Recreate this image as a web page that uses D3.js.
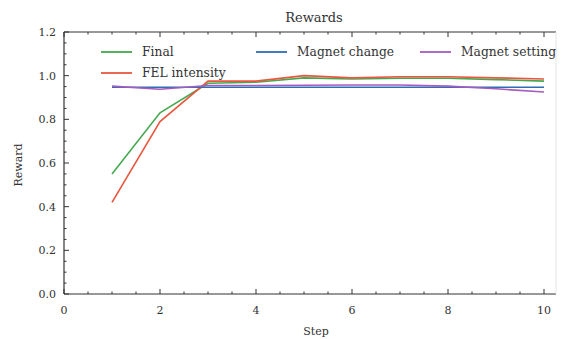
<!DOCTYPE html>
<html>
<head>
<meta charset="utf-8">
<script src="https://cdn.jsdelivr.net/npm/d3@7"></script>
<style>
  body { margin: 0; background: #fff; }
  text { font-family: "DejaVu Serif", "Liberation Serif", serif; fill: #333; }
</style>
</head>
<body>
<div id="chart"></div>
<script>
// data
const steps = [1, 2, 3, 4, 5, 6, 7, 8, 9, 10];
const finalReward = [0.55, 0.83, 0.965, 0.97, 0.99, 0.985, 0.988, 0.988, 0.982, 0.975];
const felIntensity = [0.42, 0.79, 0.975, 0.975, 1.0, 0.99, 0.995, 0.995, 0.99, 0.985];
const magnetChange = [0.947, 0.947, 0.947, 0.947, 0.947, 0.947, 0.947, 0.947, 0.947, 0.947];
const magnetSetting = [0.952, 0.938, 0.955, 0.955, 0.956, 0.957, 0.957, 0.952, 0.94, 0.925];
const seriesNames = ["Final", "FEL intensity", "Magnet change", "Magnet setting"];
const seriesColors = ["#45a84f", "#e8573f", "#2f6db5", "#a35cbf"];
const xTicks = [0, 2, 4, 6, 8, 10];
const yTicks = [0.0, 0.2, 0.4, 0.6, 0.8, 1.0, 1.2];

const W = 561, H = 339;
const pLeft = 64, pRight = 556, pTop = 32, pBottom = 294;

const svg = d3.select("#chart").append("svg")
  .attr("width", W).attr("height", H);

const x = d3.scaleLinear().domain([0, 10.25]).range([pLeft, pRight]);
const y = d3.scaleLinear().domain([0, 1.2]).range([pBottom, pTop]);

const axisColor = "#333";

// spines
svg.append("line").attr("x1", pLeft).attr("x2", pRight).attr("y1", pBottom).attr("y2", pBottom)
  .attr("stroke", axisColor).attr("stroke-width", 1.2);
svg.append("line").attr("x1", pLeft).attr("x2", pRight).attr("y1", pTop).attr("y2", pTop)
  .attr("stroke", axisColor).attr("stroke-width", 1.2);
svg.append("line").attr("x1", pLeft).attr("x2", pLeft).attr("y1", pTop).attr("y2", pBottom)
  .attr("stroke", axisColor).attr("stroke-width", 1.2);
svg.append("line").attr("x1", pRight).attr("x2", pRight).attr("y1", pTop).attr("y2", pBottom)
  .attr("stroke", "#e6e6e6").attr("stroke-width", 1);

// inward ticks (minor + major) on bottom, top, left
const xMinor = d3.range(0.5, 10.01, 0.5).filter(v => v % 2 !== 0);
const yMinor = d3.range(0.05, 1.2, 0.05).filter(v => Math.abs(v * 5 - Math.round(v * 5)) > 1e-6);

const ticks = svg.append("g").attr("stroke", axisColor).attr("stroke-width", 1);
xTicks.forEach(v => {
  ticks.append("line").attr("x1", x(v)).attr("x2", x(v)).attr("y1", pBottom).attr("y2", pBottom - 5);
  ticks.append("line").attr("x1", x(v)).attr("x2", x(v)).attr("y1", pTop).attr("y2", pTop + 5);
});
xMinor.forEach(v => {
  ticks.append("line").attr("x1", x(v)).attr("x2", x(v)).attr("y1", pBottom).attr("y2", pBottom - 2.5);
  ticks.append("line").attr("x1", x(v)).attr("x2", x(v)).attr("y1", pTop).attr("y2", pTop + 2.5);
});
yTicks.forEach(v => {
  ticks.append("line").attr("x1", pLeft).attr("x2", pLeft + 5).attr("y1", y(v)).attr("y2", y(v));
});
yMinor.forEach(v => {
  ticks.append("line").attr("x1", pLeft).attr("x2", pLeft + 2.5).attr("y1", y(v)).attr("y2", y(v));
});

// tick labels
svg.append("g").selectAll("text").data(xTicks).join("text")
  .attr("x", d => x(d)).attr("y", pBottom + 20)
  .attr("text-anchor", "middle").attr("font-size", 11)
  .text(d => d);
svg.append("g").selectAll("text").data(yTicks).join("text")
  .attr("x", pLeft - 8).attr("y", d => y(d) + 4)
  .attr("text-anchor", "end").attr("font-size", 11)
  .text(d => d.toFixed(1));

// titles
svg.append("text").attr("x", (pLeft + pRight) / 2 + 4).attr("y", 22)
  .attr("text-anchor", "middle").attr("font-size", 13).text("Rewards");
svg.append("text").attr("x", 316).attr("y", 335)
  .attr("text-anchor", "middle").attr("font-size", 11).text("Step");
svg.append("text").attr("transform", "translate(22," + 165 + ") rotate(-90)")
  .attr("text-anchor", "middle").attr("font-size", 11).text("Reward");

// lines
const allSeries = [finalReward, felIntensity, magnetChange, magnetSetting];
const line = d3.line().x((d, i) => x(steps[i])).y(d => y(d));
svg.append("g").selectAll("path").data(allSeries).join("path")
  .attr("d", d => line(d))
  .attr("fill", "none")
  .attr("stroke", (d, i) => seriesColors[i])
  .attr("stroke-width", 1.6);

// legend (3 columns, filled column-wise)
const legendPos = [[101, 52], [101, 73], [256, 52], [420, 52]];
const legend = svg.append("g");
seriesNames.forEach((name, i) => {
  const [lx, ly] = legendPos[i];
  legend.append("line").attr("x1", lx).attr("x2", lx + 31).attr("y1", ly).attr("y2", ly)
    .attr("stroke", seriesColors[i]).attr("stroke-width", 1.8);
  legend.append("text").attr("x", lx + 41).attr("y", ly + 4)
    .attr("font-size", 12.3).text(name);
});
</script>
</body>
</html>
